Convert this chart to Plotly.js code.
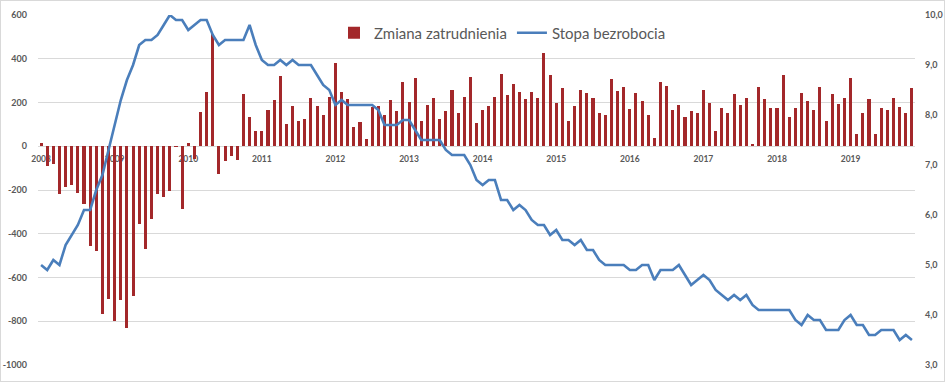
<!DOCTYPE html>
<html>
<head>
<meta charset="utf-8">
<script src="https://cdn.plot.ly/plotly-3.0.1.min.js"></script>
<style>
  html, body { margin: 0; padding: 0; background: #ffffff; }
  #wrap { position: relative; width: 945px; height: 382px; }
  #chart { position: absolute; left: 0; top: 0; width: 945px; height: 382px; }
  #frame { position: absolute; left: 0; top: 0; width: 945px; height: 382px; box-sizing: border-box; border: 1px solid #D9D9D9; pointer-events: none; }
</style>
</head>
<body>
<div id="wrap"><div id="chart"></div><div id="frame"></div></div>
<script>
// Months Jan 2008 .. Nov 2019 (index 0..142)
const years = ['2008','2009','2010','2011','2012','2013','2014','2015','2016','2017','2018','2019'];

// Zmiana zatrudnienia (tys.)
const employmentChange = [
  14, -88, -83, -220, -186, -177, -215, -266, -457, -478, -768, -700,
  -800, -703, -830, -686, -355, -469, -332, -219, -230, -203, -5, -287,
  15, -56, 155, 248, 515, -128, -68, -46, -61, 237, 134, 68,
  68, 167, 210, 320, 100, 182, 115, 126, 222, 182, 142, 224,
  379, 246, 214, 86, 110, 32, 181, 185, 143, 213, 161, 292,
  204, 312, 115, 187, 219, 126, 161, 256, 150, 223, 315, 108,
  165, 186, 224, 330, 234, 286, 249, 214, 249, 220, 425, 327,
  200, 265, 116, 185, 258, 242, 222, 151, 142, 306, 254, 269,
  170, 242, 208, 142, 40, 292, 274, 165, 188, 135, 161, 151,
  258, 197, 70, 174, 151, 237, 188, 219, 9, 271, 216, 174,
  174, 324, 135, 174, 242, 208, 165, 269, 116, 237, 194, 222,
  312, 54, 151, 216, 58, 176, 165, 219, 180, 154, 265
];

// Stopa bezrobocia (%)
const unemploymentRate = [
  5.0, 4.9, 5.1, 5.0, 5.4, 5.6, 5.8, 6.1, 6.1, 6.5, 6.8, 7.3,
  7.8, 8.3, 8.7, 9.0, 9.4, 9.5, 9.5, 9.6, 9.8, 10.0, 9.9, 9.9,
  9.7, 9.8, 9.9, 9.9, 9.6, 9.4, 9.5, 9.5, 9.5, 9.5, 9.8, 9.4,
  9.1, 9.0, 9.0, 9.1, 9.0, 9.1, 9.0, 9.0, 9.0, 8.8, 8.6, 8.5,
  8.2, 8.3, 8.2, 8.2, 8.2, 8.2, 8.2, 8.1, 7.8, 7.8, 7.8, 7.9,
  7.9, 7.7, 7.5, 7.5, 7.5, 7.5, 7.3, 7.2, 7.2, 7.2, 7.0, 6.7,
  6.6, 6.7, 6.7, 6.3, 6.3, 6.1, 6.2, 6.1, 5.9, 5.8, 5.8, 5.6,
  5.7, 5.5, 5.5, 5.4, 5.5, 5.3, 5.3, 5.1, 5.0, 5.0, 5.0, 5.0,
  4.9, 4.9, 5.0, 5.0, 4.7, 4.9, 4.9, 4.9, 5.0, 4.8, 4.6, 4.7,
  4.8, 4.7, 4.5, 4.4, 4.3, 4.4, 4.3, 4.4, 4.2, 4.1, 4.1, 4.1,
  4.1, 4.1, 4.1, 3.9, 3.8, 4.0, 3.9, 3.9, 3.7, 3.7, 3.7, 3.9,
  4.0, 3.8, 3.8, 3.6, 3.6, 3.7, 3.7, 3.7, 3.5, 3.6, 3.5
];

const leftTickVals = [-1000, -800, -600, -400, -200, 0, 200, 400, 600];
const leftTickText = ['-1000', '-800', '-600', '-400', '-200', '0', '200', '400', '600'];
const rightTickVals = [3, 4, 5, 6, 7, 8, 9, 10];
const rightTickText = ['3,0', '4,0', '5,0', '6,0', '7,0', '8,0', '9,0', '10,0'];

const monthIdx = employmentChange.map((_, i) => i);
const yearTickVals = years.map((_, k) => k * 12);

const tickFont = { family: 'Lato, "Open Sans", sans-serif', size: 9, color: '#595959', weight: 'bold' };

const traces = [
  {
    type: 'bar',
    name: 'Zmiana zatrudnienia',
    x: monthIdx,
    y: employmentChange,
    width: 0.5,
    marker: { color: '#A3282A', line: { width: 0 } },
    xaxis: 'x',
    yaxis: 'y',
    hoverinfo: 'y'
  },
  {
    type: 'scatter',
    mode: 'lines',
    name: 'Stopa bezrobocia',
    x: monthIdx,
    y: unemploymentRate,
    line: { color: '#4A7EBB', width: 2.6 },
    xaxis: 'x',
    yaxis: 'y2',
    hoverinfo: 'y'
  }
];

const layout = {
  width: 945,
  height: 382,
  margin: { l: 38, r: 30, t: 15, b: 17, pad: 0 },
  paper_bgcolor: 'rgba(0,0,0,0)',
  plot_bgcolor: 'rgba(0,0,0,0)',
  showlegend: true,
  bargap: 0,
  legend: {
    orientation: 'h',
    x: (334 - 38) / 877,
    xanchor: 'left',
    y: (365 - 33) / 350,
    yanchor: 'middle',
    font: { family: 'Lato, "Open Sans", sans-serif', size: 15, color: '#595959' },
    bgcolor: 'rgba(0,0,0,0)',
    borderwidth: 0,
    traceorder: 'normal'
  },
  xaxis: {
    range: [-0.5, 142.5],
    anchor: 'free',
    position: 0.625,
    tickmode: 'array',
    tickvals: yearTickVals,
    ticktext: years,
    tickangle: 0,
    showgrid: false,
    zeroline: false,
    showline: false,
    ticks: '',
    ticklabelstandoff: 6,
    tickfont: { family: 'Lato, "Open Sans", sans-serif', size: 8.5, color: '#595959', weight: 'bold' },
    layer: 'below traces',
    fixedrange: true
  },
  yaxis: {
    range: [-1000, 600],
    tickmode: 'array',
    tickvals: leftTickVals,
    ticktext: leftTickText,
    showgrid: true,
    gridcolor: '#D9D9D9',
    gridwidth: 1,
    zeroline: false,
    showline: false,
    ticks: '',
    ticklabelstandoff: 10,
    tickfont: tickFont,
    fixedrange: true
  },
  yaxis2: {
    range: [3, 10],
    overlaying: 'y',
    side: 'right',
    tickmode: 'array',
    tickvals: rightTickVals,
    ticktext: rightTickText,
    showgrid: false,
    zeroline: false,
    showline: false,
    ticks: '',
    ticklabelstandoff: 9,
    tickfont: tickFont,
    fixedrange: true
  }
};

Plotly.newPlot('chart', traces, layout, { displayModeBar: false, staticPlot: true });
</script>
</body>
</html>
